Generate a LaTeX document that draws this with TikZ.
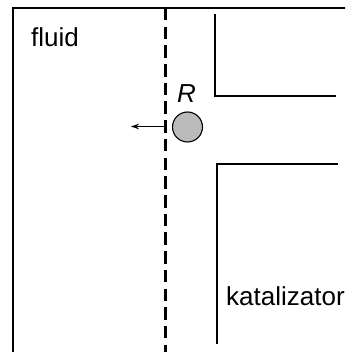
\documentclass[tikz,border=0pt]{standalone}
\usepackage{fontspec}
\setmainfont{Liberation Sans}
\usetikzlibrary{arrows.meta}
\begin{document}
\begin{tikzpicture}[x=1pt,y=-1pt,
  wall/.style={line width=1.1pt, line cap=rect},
  sep/.style={line width=3pt, dash pattern=on 12.5pt off 6.2pt},
  lbl/.style={inner sep=0pt, font=\fontsize{26}{31}\selectfont},
  particle/.style={circle, draw, line width=1.1pt, fill=black!27, minimum size=30pt, inner sep=0pt}]
\useasboundingbox (0,0) rectangle (345,352);
\clip (0,0) rectangle (345,352);
\fill[white] (0,0) rectangle (345,352);
% outer frame
\coordinate (fbl) at (13,356);
\coordinate (ftl) at (13,8);
\coordinate (ftr) at (350,8);
\draw[wall] (fbl) -- (ftl) -- (ftr);
% dashed boundary
\coordinate (dtop) at (165,8);
\coordinate (dbot) at (165,356);
\draw[sep] (dtop) -- (dbot);
% upper catalyst block
\coordinate (u1) at (215,15);
\coordinate (u2) at (215,96);
\coordinate (u3) at (335,96);
\draw[wall] (u1) -- (u2) -- (u3);
% lower catalyst block
\coordinate (l1) at (337,164);
\coordinate (l2) at (217,164);
\coordinate (l3) at (217,343);
\draw[wall] (l1) -- (l2) -- (l3);
% particle
\node[particle] (R) at (187.5,127) {};
\node[lbl, anchor=base] (Rl) at (186.5,103) {\textit{R}};
% arrow
\coordinate (a1) at (164,126.5);
\coordinate (a2) at (131,126.5);
\draw[line width=1.1pt, -{Stealth[length=8pt,width=5.5pt]}] (a1) -- (a2);
% labels
\node[lbl, anchor=base west] (fluid) at (31,46.5) {fluid};
\node[lbl, anchor=base west] (kat) at (226,305) {katalizator};
\end{tikzpicture}
\end{document}
